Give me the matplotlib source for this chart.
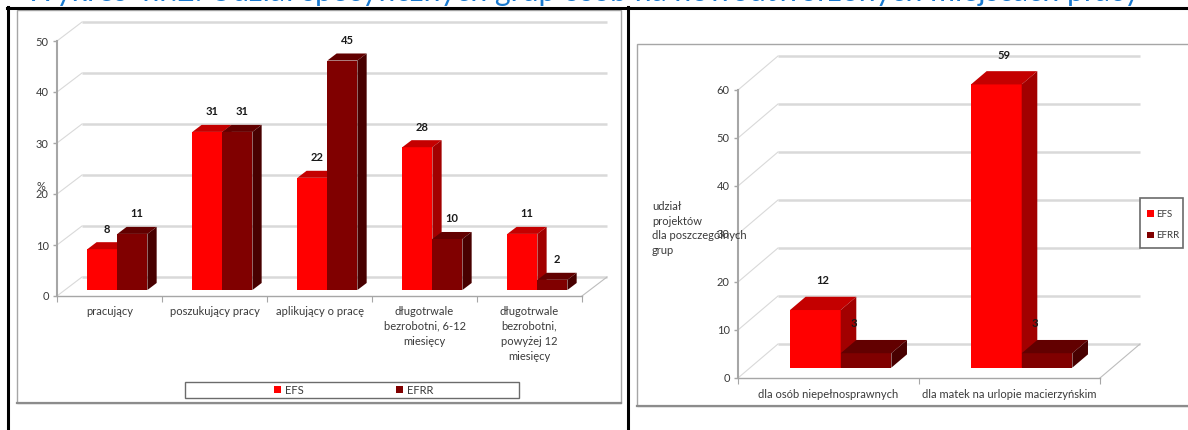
import matplotlib
matplotlib.use("Agg")
import matplotlib.pyplot as plt
from matplotlib.patches import Polygon, Rectangle
from matplotlib.lines import Line2D
import numpy as np

# ---------------------------------------------------------------- data
title = "Wykres  nr.2: Udział specyficznych grup osób na nowoutworzonych miejscach pracy"
series_names = ["EFS", "EFRR"]

groups_left = ["pracujący", "poszukujący pracy", "aplikujący o pracę",
               "długotrwale\nbezrobotni, 6-12\nmiesięcy",
               "długotrwale\nbezrobotni,\npowyżej 12\nmiesięcy"]
efs_left = [8, 31, 22, 28, 11]
efrr_left = [11, 31, 45, 10, 2]
yticks_left = [0, 10, 20, 30, 40, 50]
ylabel_left = "%"

groups_right = ["dla osób niepełnosprawnych", "dla matek na urlopie macierzyńskim"]
efs_right = [12, 59]
efrr_right = [3, 3]
yticks_right = [0, 10, 20, 30, 40, 50, 60]
ylabel_right = "udział\nprojektów\ndla poszczególnych\ngrup"

# ---------------------------------------------------------------- style
W, H, DPI = 1188, 430, 100
FONT = ["Lato", "DejaVu Sans"]
plt.rcParams["font.family"] = FONT
TXT = "#3a3a3a"
GRID = "#D9D9D9"
AXC = "#A6A6A6"
# (front, top, side) shades of each series
FACES = [("#FF0000", "#C40000", "#A20000"),
         ("#800000", "#620000", "#480000")]


def fx(px):
    return px / W


def fy(py):
    return 1 - py / H


fig = plt.figure(figsize=(W / DPI, H / DPI), dpi=DPI)
fig.patch.set_facecolor("white")


def column_chart_3d(rect_px, cats, series, yticks, floor_px, bar_w, start,
                    f0, fd, lab_dx, lab_dy, xlab_pad):
    x0p, x1p, y0p, y1p = rect_px
    ax = fig.add_axes([fx(x0p), fy(y0p), (x1p - x0p) / W, (y0p - y1p) / H])
    ax.patch.set_visible(False)
    n = len(cats)
    ymax = yticks[-1]
    ax.set_xlim(0, n)
    ax.set_ylim(0, ymax)
    ux = n / (x1p - x0p)
    uy = ymax / (y0p - y1p)
    DX, DY = floor_px[0] * ux, floor_px[1] * uy

    # back wall and side wall grid
    for v in yticks:
        ax.plot([DX, n + DX], [v + DY, v + DY], color=GRID, lw=1.8,
                clip_on=False, zorder=1, solid_capstyle="butt")
        ax.plot([0, DX], [v, v + DY], color=GRID, lw=0.8,
                clip_on=False, zorder=1)
    ax.plot([n, n + DX], [0, DY], color="#BDBDBD", lw=0.8, clip_on=False, zorder=1)

    sx, sy = f0 * DX, f0 * DY
    bdx, bdy = fd * DX, fd * DY
    xs = np.arange(n)
    handles = []
    for j, (vals, (cf, ct, cs)) in enumerate(zip(series, FACES)):
        lefts = xs + start + j * bar_w + sx
        cont = ax.bar(lefts, vals, width=bar_w, bottom=sy, align="edge",
                      color=cf, linewidth=0, clip_on=False)
        handles.append(cont)
        for i, (patch, v) in enumerate(zip(cont.patches, vals)):
            z = 3 + 2 * i + j
            patch.set_zorder(z)
            a = lefts[i]
            b = a + bar_w
            yt = sy + v
            ax.add_patch(Polygon([(a, yt), (b, yt), (b + bdx, yt + bdy), (a + bdx, yt + bdy)],
                                 closed=True, fc=ct, ec="none", zorder=z, clip_on=False))
            ax.add_patch(Polygon([(b, sy), (b + bdx, sy + bdy), (b + bdx, yt + bdy), (b, yt)],
                                 closed=True, fc=cs, ec="none", zorder=z, clip_on=False))
            ax.annotate(f"{v}", xy=(a + bar_w / 2 + bdx / 2, yt + bdy),
                        xytext=(lab_dx[j] * 0.72, lab_dy * 0.72), textcoords="offset points",
                        ha="center", va="center", fontsize=8, fontweight="bold",
                        color="#1a1a1a", annotation_clip=False, zorder=30)

    for s in ("top", "right"):
        ax.spines[s].set_visible(False)
    ax.spines["left"].set_color(AXC)
    ax.spines["left"].set_linewidth(1.5)
    ax.spines["bottom"].set_color(AXC)
    ax.spines["bottom"].set_linewidth(1.0)
    ax.set_yticks(yticks)
    ax.tick_params(axis="y", direction="out", length=3, width=1, color=AXC,
                   labelsize=8, labelcolor=TXT, pad=3)
    ax.set_xticks(np.arange(n + 1))
    ax.set_xticklabels([])
    ax.set_xticks(xs + 0.5, minor=True)
    ax.set_xticklabels(cats, minor=True, fontsize=8, color=TXT, linespacing=1.45)
    ax.tick_params(axis="x", which="major", direction="out", length=4, color=AXC)
    ax.tick_params(axis="x", which="minor", length=0, pad=xlab_pad)
    return ax, handles


# ---------------------------------------------------------------- left chart
axl, hl = column_chart_3d((57, 582, 296, 41), groups_left, [efs_left, efrr_left],
                          yticks_left, (25, 19), 0.286, 0.214, 0.315, 0.37,
                          (0, 0), 13, 7)
fig.text(fx(41), fy(187), ylabel_left, fontsize=8, color=TXT, ha="center", va="center")

fig.add_artist(Rectangle((fx(185), fy(398)), (519 - 185) / W, (398 - 382) / H,
                         transform=fig.transFigure, fill=False, ec="#6b6b6b", lw=1.0))
fig.legend(handles=hl, labels=series_names, ncol=2, frameon=False,
           loc="center", bbox_to_anchor=(fx(354), fy(390)),
           fontsize=8, handlelength=0.6, handleheight=0.6, handletextpad=0.4,
           columnspacing=8.3, borderpad=0, labelcolor=TXT)

# ---------------------------------------------------------------- right chart
axr, hr = column_chart_3d((738, 1100, 378, 90), groups_right, [efs_right, efrr_right],
                          yticks_right, (40, 34), 0.28, 0.22, 0.305, 0.39,
                          (0, -20), 16, 8)
fig.text(fx(652), fy(201), ylabel_right, fontsize=8, color=TXT, ha="left", va="top",
         linespacing=1.4)

fig.add_artist(Rectangle((fx(1140), fy(248)), (1183 - 1140) / W, (248 - 198) / H,
                         transform=fig.transFigure, fill=False, ec="#6b6b6b", lw=1.2))
fig.legend(handles=hr, labels=series_names, ncol=1, frameon=False,
           loc="upper left", bbox_to_anchor=(fx(1142), fy(205)),
           fontsize=7, handlelength=0.7, handleheight=0.7, handletextpad=0.3,
           labelspacing=1.3, borderpad=0, labelcolor=TXT)

# ---------------------------------------------------------------- chart frames
fig.add_artist(Rectangle((fx(17), fy(403)), (621 - 17) / W, (403 - 10) / H,
                         transform=fig.transFigure, fill=False, ec=AXC, lw=1.0))
fig.add_artist(Line2D([fx(17), fx(621)], [fy(403), fy(403)], transform=fig.transFigure,
                      color="#8c8c8c", lw=1.6))
fig.add_artist(Rectangle((fx(637), fy(406)), (1195 - 637) / W, (406 - 44) / H,
                         transform=fig.transFigure, fill=False, ec=AXC, lw=1.0))
fig.add_artist(Line2D([fx(637), fx(1188)], [fy(406), fy(406)], transform=fig.transFigure,
                      color="#8c8c8c", lw=1.6))

# ---------------------------------------------------------------- page table lines and heading
fig.add_artist(Line2D([fx(7), fx(1188)], [fy(7.5), fy(7.5)], transform=fig.transFigure,
                      color="black", lw=2.2))
fig.add_artist(Line2D([fx(7.5), fx(7.5)], [fy(7), fy(430)], transform=fig.transFigure,
                      color="black", lw=2.2))
fig.add_artist(Line2D([fx(628), fx(628)], [fy(7), fy(430)], transform=fig.transFigure,
                      color="black", lw=2.2))
fig.text(fx(25), fy(0.5), title, fontsize=21.7, color="#1a7ad0", ha="left", va="baseline")

fig.savefig("out.png", dpi=DPI, facecolor="white")
